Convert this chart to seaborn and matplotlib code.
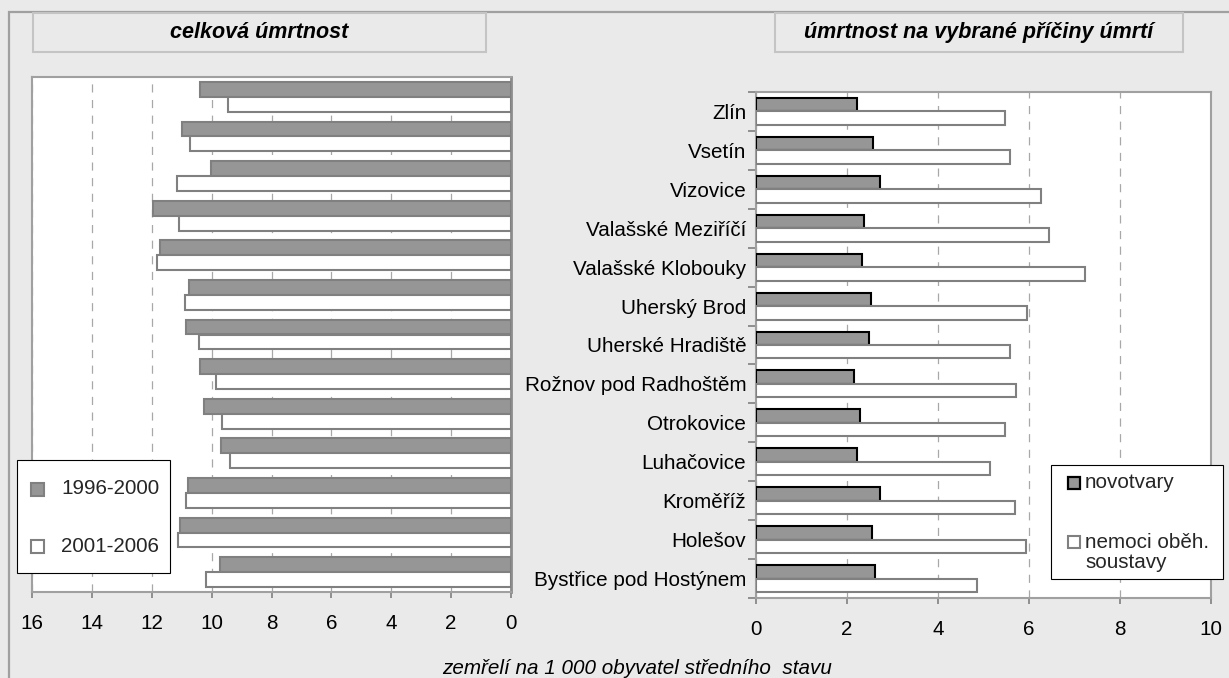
import matplotlib
matplotlib.use("Agg")
import matplotlib.pyplot as plt
import seaborn as sns
import pandas as pd
import numpy as np
from matplotlib.patches import Rectangle

# ---------------- data ----------------
cities = ["Zlín", "Vsetín", "Vizovice", "Valašské Meziříčí", "Valašské Klobouky",
          "Uherský Brod", "Uherské Hradiště", "Rožnov pod Radhoštěm", "Otrokovice",
          "Luhačovice", "Kroměříž", "Holešov", "Bystřice pod Hostýnem"]
periods = ["1996-2000", "2001-2006"]
mort_1996_2000 = [10.40, 10.98, 10.03, 11.95, 11.74, 10.75, 10.84, 10.40, 10.25, 9.68, 10.79, 11.05, 9.71]
mort_2001_2006 = [9.44, 10.73, 11.17, 11.09, 11.83, 10.90, 10.42, 9.86, 9.67, 9.38, 10.85, 11.12, 10.18]
causes = ["novotvary", "nemoci oběh. soustavy"]
novotvary = [2.21, 2.57, 2.72, 2.38, 2.32, 2.53, 2.48, 2.16, 2.28, 2.23, 2.73, 2.55, 2.62]
nemoci_obeh = [5.48, 5.58, 6.27, 6.44, 7.23, 5.96, 5.59, 5.72, 5.48, 5.15, 5.69, 5.93, 4.85]
left_ticks = [16, 14, 12, 10, 8, 6, 4, 2, 0]
right_ticks = [0, 2, 4, 6, 8, 10]
title_left = "celková úmrtnost"
title_right = "úmrtnost na vybrané příčiny úmrtí"
xlabel = "zemřelí na 1 000 obyvatel středního  stavu"

# ---------------- style ----------------
BG = "#EAEAEA"
GRAY = "#969696"
EDGE = "#808080"
SPINE = "#A0A0A0"
FS = 14.9

sns.set_theme(style="white")
plt.rcParams['font.family'] = ['Liberation Sans', 'DejaVu Sans']

W, H = 1229, 678
fig = plt.figure(figsize=(W / 100, H / 100), dpi=100, facecolor=BG)


def fx(x):
    return x / W


def fy(y):
    return 1 - y / H


axL = fig.add_axes([fx(32), fy(592), (511 - 32) / W, (592 - 77) / H])
axR = fig.add_axes([fx(756), fy(598), (1211 - 756) / W, (598 - 92) / H])

dfL = pd.DataFrame({
    "obec": cities * 2,
    "obdobi": [periods[0]] * len(cities) + [periods[1]] * len(cities),
    "hodnota": mort_1996_2000 + mort_2001_2006,
})
dfR = pd.DataFrame({
    "obec": cities * 2,
    "pricina": [causes[0]] * len(cities) + [causes[1]] * len(cities),
    "hodnota": novotvary + nemoci_obeh,
})

sns.barplot(data=dfL, y="obec", x="hodnota", hue="obdobi", orient="h",
            palette=[GRAY, "white"], saturation=1, width=0.75, gap=0,
            linewidth=1.5, edgecolor=EDGE, legend=False, ax=axL, zorder=3)
sns.barplot(data=dfR, y="obec", x="hodnota", hue="pricina", orient="h",
            palette=[GRAY, "white"], saturation=1, width=0.69, gap=0,
            linewidth=1.5, edgecolor=EDGE, legend=False, ax=axR, zorder=3)
for p in axR.containers[0]:
    p.set_edgecolor("black")

for ax in (axL, axR):
    ax.set_facecolor("white")
    ax.set_xlabel("")
    ax.set_ylabel("")
    ax.set_axisbelow(True)
    ax.xaxis.grid(True, linestyle=(0, (6.5, 6)), color="#A8A8A8", lw=0.9)
    ax.yaxis.grid(False)
    for s in ax.spines.values():
        s.set_visible(True)
        s.set_color(SPINE)
        s.set_linewidth(1.5)
    ax.tick_params(axis="x", which="major", direction="out", length=4, width=1.2,
                   color=EDGE, labelsize=FS, labelcolor="black", pad=12, bottom=True)
    ax.set_ylim(len(cities) - 0.5, -0.5)

# left panel
axL.set_xlim(16, 0)
axL.set_xticks(left_ticks)
axL.set_xticklabels([str(t) for t in left_ticks])
axL.set_yticks([])
axL.spines["right"].set_color("#8C8C8C")
axL.spines["right"].set_linewidth(2)

# right panel
axR.set_xlim(0, 10)
axR.set_xticks(right_ticks)
axR.set_xticklabels([str(t) for t in right_ticks])
axR.set_yticks(range(len(cities)))
axR.set_yticklabels(cities)
axR.set_yticks(np.arange(-0.5, len(cities), 1), minor=True)
axR.tick_params(axis="y", which="major", length=0, labelsize=FS, labelcolor="black", pad=7)
axR.tick_params(axis="y", which="minor", direction="out", length=5.8, width=1.2,
                color=EDGE, left=True)

# outer frame
fig.add_artist(Rectangle((fx(9), -0.05), 1.1, fy(12) + 0.05, transform=fig.transFigure,
                         facecolor="none", edgecolor=SPINE, lw=1.6, zorder=0))

# title boxes
for (x0, x1, txt) in [(33, 486, title_left), (775, 1183, title_right)]:
    fig.add_artist(Rectangle((fx(x0), fy(52)), (x1 - x0) / W, (52 - 13) / H,
                             transform=fig.transFigure, facecolor=BG,
                             edgecolor="#C4C4C4", lw=1.5))
    fig.text(fx((x0 + x1) / 2), fy(32.5), txt, ha="center", va="center",
             fontsize=15.5, fontweight="bold", style="italic", color="black")

# bottom label
fig.text(fx(637), fy(668), xlabel, ha="center", va="center", style="italic",
         fontsize=FS, color="black")


# legends (drawn as figure artists)
def sq(cx, cy, size, fc, ec, lw):
    fig.add_artist(Rectangle((fx(cx - size / 2), fy(cy + size / 2)), size / W, size / H,
                             transform=fig.transFigure, facecolor=fc, edgecolor=ec, lw=lw,
                             zorder=6))


fig.add_artist(Rectangle((fx(17), fy(573)), (170 - 17) / W, (573 - 460) / H,
                         transform=fig.transFigure, facecolor="white",
                         edgecolor="black", lw=0.8, zorder=5))
sq(37, 489, 13, GRAY, EDGE, 1.5)
sq(37, 546, 13, "white", EDGE, 1.5)
fig.text(fx(61), fy(489), periods[0], ha="left", va="center", fontsize=FS, zorder=7)
fig.text(fx(61), fy(546), periods[1], ha="left", va="center", fontsize=FS, zorder=7)

fig.add_artist(Rectangle((fx(1051), fy(579)), (1223 - 1051) / W, (579 - 465) / H,
                         transform=fig.transFigure, facecolor="white",
                         edgecolor="black", lw=0.8, zorder=5))
sq(1074, 483, 12, GRAY, "black", 1.6)
sq(1074, 542, 12, "white", EDGE, 1.5)
fig.text(fx(1085), fy(483), causes[0], ha="left", va="center", fontsize=FS, zorder=7)
fig.text(fx(1085), fy(542), "nemoci oběh.", ha="left", va="center", fontsize=FS, zorder=7)
fig.text(fx(1085), fy(563), "soustavy", ha="left", va="center", fontsize=FS, zorder=7)

fig.savefig("out.png", dpi=100, facecolor=BG)
